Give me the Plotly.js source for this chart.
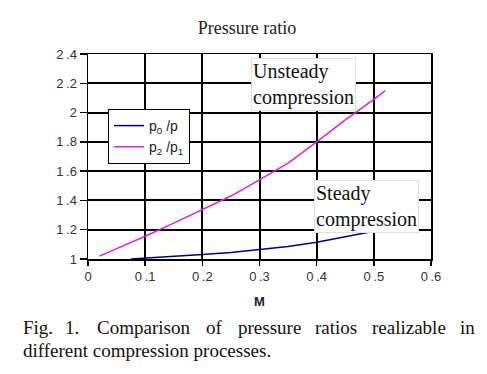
<!DOCTYPE html>
<html>
<head>
<meta charset="utf-8">
<script src="https://cdn.plot.ly/plotly-3.0.1.min.js"></script>
<style>html,body{margin:0;padding:0;background:#fff;}#chart{width:487px;height:374px;}</style>
</head>
<body>
<div id="chart"></div>
<script>
// Data
const unsteadyM = [0.02, 0.05, 0.1, 0.15, 0.2, 0.25, 0.3, 0.35, 0.4, 0.45, 0.5, 0.52];
const unsteadyRatio = [1.02, 1.07, 1.155, 1.245, 1.335, 1.43, 1.54, 1.655, 1.80, 1.95, 2.09, 2.15];
const steadyM = [0.075, 0.1, 0.15, 0.2, 0.25, 0.3, 0.35, 0.4, 0.45, 0.5, 0.51];
const steadyRatio = [1.0, 1.005, 1.015, 1.03, 1.045, 1.065, 1.085, 1.115, 1.15, 1.19, 1.2];
const xTickVals = [0, 0.1, 0.2, 0.3, 0.4, 0.5, 0.6];
const xTickText = ['0', '0\u2009.1', '0\u2009.2', '0\u2009.3', '0\u2009.4', '0\u2009.5', '0\u2009.6'];
const yTickVals = [1, 1.2, 1.4, 1.6, 1.8, 2, 2.2, 2.4];
const yTickText = ['1', '1\u2009.2', '1\u2009.4', '1\u2009.6', '1\u2009.8', '2', '2\u2009.2', '2\u2009.4'];
const seriesNames = ['p<sub>0</sub> /p', 'p<sub>2</sub> /p<sub>1</sub>'];
const chartTitle = 'Pressure ratio';
const xTitle = 'M';
const captionLine1 = ['Fig.', '1.', 'Comparison', 'of', 'pressure', 'ratios', 'realizable', 'in'];
const captionLine1X = [21, 63, 95, 204, 236, 313, 370, 458];
const captionLine2 = 'different compression processes.';

const serif = 'Liberation Serif, Times New Roman, serif';
const sans = 'Liberation Sans, Arial, sans-serif';
const gridCol = '#000';

const traces = [
  {x: steadyM, y: steadyRatio, mode: 'lines', name: seriesNames[0],
   line: {color: '#000080', width: 1.5}},
  {x: unsteadyM, y: unsteadyRatio, mode: 'lines', name: seriesNames[1],
   line: {color: '#e020e0', width: 1.5}}
];

// plot area geometry (pixels) for converting caption positions to paper coords
const L = 88, R = 56, T = 54, B = 115, W = 487, H = 374;
const pw = W - L - R, ph = H - T - B;
const px2x = p => (p - L) / pw;
const py2y = p => (H - B - p) / ph;

const annotations = [
  {x: 0.285, y: 2.37, xref: 'x', yref: 'y', xanchor: 'left', yanchor: 'top', align: 'left',
   text: 'Unsteady<br>compression', showarrow: false, bgcolor: '#fff', bordercolor: '#e0e0e0',
   borderwidth: 1, borderpad: 1, font: {family: serif, size: 20, color: '#111'}},
  {x: 0.395, y: 1.54, xref: 'x', yref: 'y', xanchor: 'left', yanchor: 'top', align: 'left',
   text: 'Steady<br>compression', showarrow: false, bgcolor: '#fff', bordercolor: '#e0e0e0',
   borderwidth: 1, borderpad: 1, font: {family: serif, size: 20, color: '#111'}}
];
captionLine1.forEach((w, i) => {
  annotations.push({x: px2x(captionLine1X[i]), y: py2y(327.5), xref: 'paper', yref: 'paper',
    xanchor: 'left', yanchor: 'middle', text: w, showarrow: false,
    font: {family: serif, size: 19, color: '#111'}});
});
annotations.push({x: px2x(21), y: py2y(350), xref: 'paper', yref: 'paper',
  xanchor: 'left', yanchor: 'middle', text: captionLine2, showarrow: false,
  font: {family: serif, size: 19, color: '#111'}});

const layout = {
  width: W, height: H,
  margin: {l: L, r: R, t: T, b: B, pad: 0},
  paper_bgcolor: '#fff', plot_bgcolor: '#fff',
  title: {text: chartTitle, x: 0.507, xanchor: 'center', y: 0.925, yanchor: 'middle',
          font: {family: serif, size: 18, color: '#222'}},
  showlegend: true,
  legend: {x: px2x(108), y: py2y(109), xanchor: 'left', yanchor: 'top',
           bgcolor: '#fff', bordercolor: '#000', borderwidth: 1,
           font: {family: sans, size: 14, color: '#222'}, itemwidth: 30,
           tracegroupgap: 0},
  xaxis: {range: [0, 0.6], tickmode: 'array', tickvals: xTickVals, ticktext: xTickText,
          showgrid: true, gridcolor: gridCol, gridwidth: 2,
          showline: true, linecolor: gridCol, linewidth: 1.5, mirror: true,
          ticks: 'outside', ticklen: 5, tickwidth: 1.5, tickcolor: gridCol,
          tickfont: {family: sans, size: 13, color: '#333'}, zeroline: false,
          title: {text: '<b>' + xTitle + '</b>', standoff: 14, font: {family: sans, size: 13, color: '#222'}}},
  yaxis: {range: [1, 2.4], tickmode: 'array', tickvals: yTickVals, ticktext: yTickText,
          showgrid: true, gridcolor: gridCol, gridwidth: 2,
          showline: true, linecolor: gridCol, linewidth: 1.5, mirror: true,
          ticks: 'outside', ticklen: 7, tickwidth: 1.5, tickcolor: gridCol,
          tickfont: {family: sans, size: 13, color: '#333'}, zeroline: false},
  annotations: annotations
};

Plotly.newPlot('chart', traces, layout, {displayModeBar: false, staticPlot: true});
</script>
</body>
</html>
